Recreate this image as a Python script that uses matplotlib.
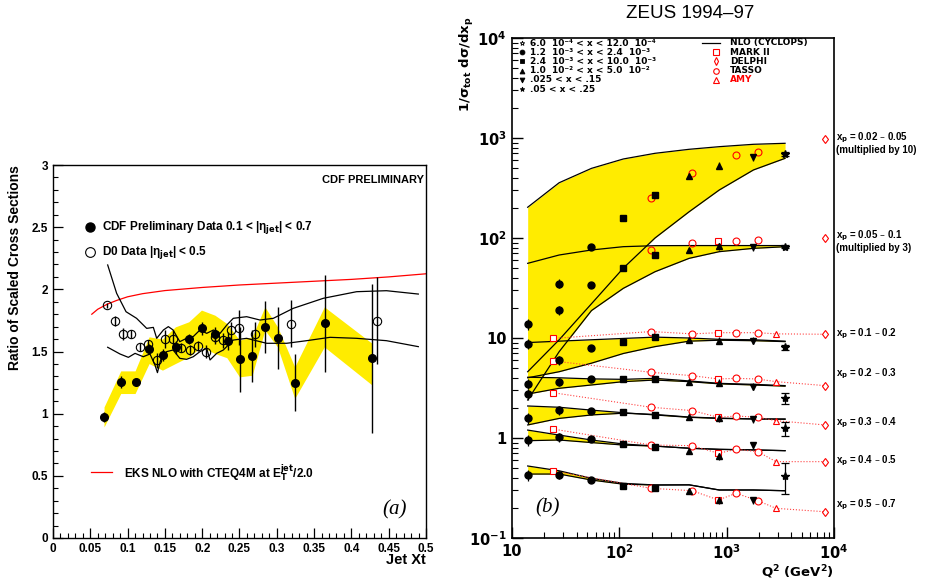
import numpy as np
import matplotlib
matplotlib.use('Agg')
import matplotlib.pyplot as plt

plt.rcParams['font.family'] = ['Liberation Sans', 'DejaVu Sans']

# ---------------- left panel data (CDF / D0 ratio) ----------------
cdf_x = [0.069, 0.091, 0.111, 0.129, 0.147, 0.165, 0.182, 0.200, 0.217, 0.234,
         0.251, 0.267, 0.284, 0.301, 0.324, 0.364, 0.428]
cdf_y = [0.975, 1.255, 1.255, 1.523, 1.474, 1.533, 1.597, 1.686, 1.639, 1.585,
         1.437, 1.464, 1.697, 1.606, 1.249, 1.727, 1.445]
cdf_err = [0.04, 0.05, 0.02, 0.04, 0.05, 0.05, 0.04, 0.05, 0.06, 0.07,
           0.26, 0.21, 0.21, 0.25, 0.23, 0.39, 0.60]

d0_x = [0.0725, 0.0832, 0.0939, 0.105, 0.1163, 0.128, 0.139, 0.150, 0.1615, 0.172,
        0.183, 0.194, 0.205, 0.2165, 0.2276, 0.2388, 0.250, 0.271, 0.3193, 0.4343]
d0_y = [1.870, 1.747, 1.639, 1.639, 1.537, 1.559, 1.430, 1.599, 1.599, 1.532,
        1.511, 1.548, 1.500, 1.618, 1.591, 1.669, 1.690, 1.639, 1.725, 1.749]
d0_err = [0.02, 0.04, 0.05, 0.03, 0.03, 0.03, 0.06, 0.07, 0.07, 0.04,
          0.04, 0.04, 0.05, 0.06, 0.06, 0.07, 0.14, 0.10, 0.19, 0.35]

band_x = [0.0684, 0.0908, 0.110, 0.1288, 0.1467, 0.164, 0.182, 0.199, 0.217, 0.233,
          0.250, 0.267, 0.284, 0.301, 0.324, 0.3637, 0.428]
band_lo = [0.893, 1.162, 1.162, 1.403, 1.350, 1.403, 1.457, 1.537, 1.484, 1.450,
           1.296, 1.309, 1.672, 1.537, 1.122, 1.537, 1.229]
band_hi = [1.054, 1.344, 1.344, 1.618, 1.600, 1.698, 1.739, 1.833, 1.792, 1.725,
           1.591, 1.618, 1.859, 1.698, 1.376, 1.859, 1.564]

eks_x = [0.052, 0.06, 0.0725, 0.085, 0.10, 0.12, 0.15, 0.20, 0.25, 0.30, 0.35, 0.40, 0.45, 0.50]
eks_y = [1.80, 1.84, 1.88, 1.91, 1.94, 1.965, 1.99, 2.015, 2.035, 2.05, 2.065, 2.08, 2.10, 2.125]

sys_up_x = [0.0733, 0.0853, 0.0979, 0.112, 0.1256, 0.1345, 0.139, 0.148, 0.1546, 0.161,
            0.170, 0.179, 0.188, 0.197, 0.206, 0.215, 0.224, 0.233, 0.2417, 0.2596,
            0.2775, 0.2954, 0.322, 0.3624, 0.407, 0.447, 0.4897]
sys_up_y = [2.196, 1.968, 1.82, 1.767, 1.686, 1.694, 1.606, 1.673, 1.70, 1.673,
            1.579, 1.606, 1.62, 1.673, 1.646, 1.673, 1.646, 1.713, 1.767, 1.78,
            1.753, 1.767, 1.847, 1.928, 1.981, 1.989, 1.962]
sys_lo_x = [0.0733, 0.0898, 0.101, 0.110, 0.121, 0.130, 0.1367, 0.140, 0.1443, 0.1524,
            0.161, 0.170, 0.179, 0.188, 0.197, 0.206, 0.2105, 0.2194, 0.2283, 0.235,
            0.2417, 0.2596, 0.2864, 0.3132, 0.340, 0.3713, 0.407, 0.447, 0.4897]
sys_lo_y = [1.534, 1.480, 1.453, 1.485, 1.458, 1.480, 1.391, 1.330, 1.432, 1.499,
            1.512, 1.445, 1.437, 1.458, 1.499, 1.525, 1.432, 1.485, 1.512, 1.552,
            1.592, 1.606, 1.566, 1.566, 1.587, 1.614, 1.606, 1.587, 1.539]

# ---------------- right panel data (ZEUS) ----------------
q2 = [14, 27.5, 55, 109, 215, 447, 853, 1775, 3500]
zeus_marker = ['o', 'o', 'o', 's', 's', '^', '^', 'v', '*']
zeus_rel_err = [0.12, 0.10, 0.05, 0.03, 0.03, 0.05, 0.08, 0.08, 0.12]

zeus_a = [13.8, 35.0, 82.0, 160.0, 272.0, 417.0, 528.0, 641.0, 692.0]   # x 10
zeus_b = [8.8, 19.0, 33.5, 49.7, 67.6, 75.9, 83.0, 80.7, 81.8]          # x 3
zeus_1 = [3.5, 6.0, 7.9, 9.2, 10.2, 9.55, 9.4, 9.4, 8.07]
zeus_2 = [2.75, 3.66, 3.86, 3.86, 3.86, 3.66, 3.57, 3.26, 2.5]
zeus_3 = [1.57, 1.9, 1.88, 1.83, 1.70, 1.61, 1.57, 1.55, 1.25]
zeus_4 = [0.955, 1.02, 0.97, 0.871, 0.819, 0.747, 0.66, 0.85, 0.42]
zeus_5 = [0.427, 0.43, 0.38, 0.334, 0.314, 0.297, 0.24, 0.24, None]
zeus_last_err = [0.04, 0.03, 0.05, 0.13, 0.16, 0.35, 0.0]

ee_q2 = [24, 197, 479, 837, 1224, 1950, 2884, 8260]
ee_marker = ['s', 'o', 'o', 's', 'o', 'o', '^', 'd']
ee_a = [None, 253, 443, None, 671, 724, None, 970]
ee_b = [None, 75.9, 89.8, 94, 94, 95.5, None, 99]
ee_1 = [9.9, 11.6, 11.0, 11.3, 11.3, 11.3, 11.0, 10.9]
ee_2 = [5.9, 4.54, 4.2, 3.89, 3.95, 3.89, 3.66, 3.34]
ee_3 = [2.84, 2.03, 1.88, 1.61, 1.66, 1.61, 1.49, 1.35]
ee_4 = [1.23, 0.851, 0.838, 0.703, 0.77, 0.73, 0.58, 0.58]
ee_5 = [0.468, 0.314, 0.297, 0.24, 0.28, 0.236, 0.198, 0.183]

nlo_a_hi = [203, 357, 497, 617, 703, 771, 819, 865, 885]
nlo_a_lo = [4.6, 9.6, 22, 50, 100, 183, 302, 479, 626]
nlo_b_hi = [55.8, 67.6, 75.9, 81.9, 83.8, 84, 84, 84, 84]
nlo_b_lo = [2.4, 7.3, 18.8, 31.4, 46, 62.6, 73, 78.8, 81.8]
nlo_1_hi = [9.0, 9.3, 9.6, 9.9, 10.2, 10.0, 9.7, 9.6, 9.3]
nlo_1_lo = [4.0, 4.6, 5.6, 7.0, 8.2, 9.3, 9.5, 9.4, 9.2]
nlo_2_hi = [4.05, 4.0, 3.9, 3.86, 3.95, 3.72, 3.52, 3.44, 3.34]
nlo_2_lo = [2.75, 3.14, 3.39, 3.66, 3.8, 3.66, 3.48, 3.39, 3.3]
nlo_3_hi = [2.09, 2.03, 1.9, 1.79, 1.7, 1.61, 1.57, 1.55, 1.55]
nlo_3_lo = [1.35, 1.57, 1.7, 1.77, 1.72, 1.62, 1.58, 1.55, 1.54]
nlo_4_hi = [1.2, 1.07, 0.955, 0.871, 0.83, 0.79, 0.77, 0.76, 0.747]
nlo_4_lo = [0.94, 0.955, 0.9, 0.85, 0.83, 0.79, 0.77, 0.76, 0.747]
nlo_5_hi = [0.525, 0.47, 0.395, 0.352, 0.339, 0.34, 0.302, 0.302, 0.297]
nlo_5_lo = [0.436, 0.436, 0.38, 0.345, 0.339, 0.34, 0.302, 0.302, 0.297]

bin_labels = [('x$_\\mathbf{p}$ = 0.02 – 0.05', 138), ('(multiplied by 10)', 150),
              ('x$_\\mathbf{p}$ = 0.05 – 0.1', 236), ('(multiplied by 3)', 248),
              ('x$_\\mathbf{p}$ = 0.1 – 0.2', 334), ('x$_\\mathbf{p}$ = 0.2 – 0.3', 374),
              ('x$_\\mathbf{p}$ = 0.3 – 0.4', 423), ('x$_\\mathbf{p}$ = 0.4 – 0.5', 461),
              ('x$_\\mathbf{p}$ = 0.5 – 0.7', 505)]

YELLOW = '#ffec00'
W, H = 928, 586


def box(x0, y0, x1, y1):
    return [x0 / W, 1 - y1 / H, (x1 - x0) / W, (y1 - y0) / H]


fig = plt.figure(figsize=(9.28, 5.86), dpi=100)

# ================= left panel =================
axl = fig.add_axes(box(53, 165, 426, 538))
axl.fill_between(band_x, band_lo, band_hi, color=YELLOW, lw=0)
axl.plot(eks_x, eks_y, color='red', lw=0.9)
axl.plot(sys_up_x, sys_up_y, color='black', lw=0.9)
axl.plot(sys_lo_x, sys_lo_y, color='black', lw=0.9)
axl.errorbar(d0_x, d0_y, yerr=d0_err, fmt='o', mfc='none', mec='black', mew=0.8,
             ms=6, ecolor='black', elinewidth=1.0)
axl.errorbar(cdf_x, cdf_y, yerr=cdf_err, fmt='o', color='black', ms=5.5,
             elinewidth=1.0)

axl.set_xlim(0, 0.5)
axl.set_ylim(0, 3)
axl.set_xticks(np.arange(0, 0.51, 0.05))
axl.set_xticklabels(['0', '0.05', '0.1', '0.15', '0.2', '0.25', '0.3', '0.35',
                     '0.4', '0.45', '0.5'])
axl.set_xticks(np.arange(0, 0.501, 0.01), minor=True)
axl.set_yticks(np.arange(0, 3.01, 0.5))
axl.set_yticklabels(['0', '0.5', '1', '1.5', '2', '2.5', '3'])
axl.set_yticks(np.arange(0, 3.01, 0.1), minor=True)
axl.tick_params(which='both', direction='in', top=False, right=False,
                labelsize=8.5)
axl.tick_params(which='major', length=7, width=0.9)
axl.tick_params(which='minor', length=3.5, width=0.8)
for lab in axl.get_xticklabels() + axl.get_yticklabels():
    lab.set_fontweight('bold')
for sp in axl.spines.values():
    sp.set_linewidth(1.0)

axl.text(0.497, 2.88, 'CDF PRELIMINARY', ha='right', va='center',
         fontsize=8, fontweight='bold')
axl.plot([0.05], [2.498], 'o', color='black', ms=6.5)
axl.text(0.0657, 2.498, 'CDF Preliminary Data 0.1 < |η$_{\\mathbf{jet}}$| < 0.7',
         va='center', fontsize=8.5, fontweight='bold')
axl.plot([0.05], [2.297], 'o', mfc='white', mec='black', ms=7, mew=0.8)
axl.text(0.0657, 2.297, 'D0 Data |η$_{\\mathbf{jet}}$| < 0.5',
         va='center', fontsize=8.5, fontweight='bold')
axl.plot([0.0505, 0.0796], [0.529, 0.529], color='red', lw=0.9)
axl.text(0.0948, 0.529, 'EKS NLO with CTEQ4M at E$_\\mathbf{T}^\\mathbf{jet}$/2.0',
         va='center', fontsize=8.5, fontweight='bold')
axl.text(0.4575, 0.223, '(a)', ha='center', va='center', fontsize=15,
         family='Liberation Serif', style='italic')

axl.set_xlabel('Jet Xt', fontsize=10.5, fontweight='bold', loc='right', labelpad=-1)
axl.set_ylabel('Ratio of Scaled Cross Sections', fontsize=10, fontweight='bold',
               loc='top', labelpad=7)

# ================= right panel =================
axr = fig.add_axes(box(512, 38, 834, 538))
axr.set_xscale('log')
axr.set_yscale('log')

bands = [(nlo_a_lo, nlo_a_hi), (nlo_b_lo, nlo_b_hi), (nlo_1_lo, nlo_1_hi),
         (nlo_2_lo, nlo_2_hi), (nlo_3_lo, nlo_3_hi), (nlo_4_lo, nlo_4_hi),
         (nlo_5_lo, nlo_5_hi)]
for lo, hi in bands:
    axr.fill_between(q2, lo, hi, color=YELLOW, lw=0, zorder=1)
for lo, hi in bands:
    axr.plot(q2, hi, color='black', lw=0.9, zorder=2)
    axr.plot(q2, lo, color='black', lw=0.9, zorder=2)

# e+e- data
ee_sets = [(ee_a, False), (ee_b, False), (ee_1, True), (ee_2, True),
           (ee_3, True), (ee_4, True), (ee_5, True)]
for vals, joined in ee_sets:
    if joined:
        axr.plot(ee_q2, vals, color='#ff4040', lw=0.8, ls=':', zorder=3)
    for q, v, m in zip(ee_q2, vals, ee_marker):
        if v is None:
            continue
        axr.plot([q], [v], marker=m, ls='none', mfc='white' if joined else 'none',
                 mec='red', mew=0.8, ms=5 if m != 'd' else 4.5, zorder=4)

# ZEUS data
zeus_sets = [zeus_a, zeus_b, zeus_1, zeus_2, zeus_3, zeus_4, zeus_5]
for k, vals in enumerate(zeus_sets):
    for j, (q, v, m) in enumerate(zip(q2, vals, zeus_marker)):
        if v is None:
            continue
        rel = zeus_last_err[k] if j == len(q2) - 1 else zeus_rel_err[j]
        axr.errorbar([q], [v], yerr=[[v * rel], [v * rel]], fmt=m, color='black',
                     ms=5 if m != '*' else 6, elinewidth=0.9,
                     capsize=3 if j == len(q2) - 1 else 0, capthick=0.9, zorder=5)

axr.set_xlim(10, 1e4)
axr.set_ylim(0.1, 1e4)
axr.set_xticks([10, 100, 1000, 10000])
axr.set_xticklabels(['10', '$\\mathbf{10^{2}}$', '$\\mathbf{10^{3}}$', '$\\mathbf{10^{4}}$'])
axr.set_yticks([0.1, 1, 10, 100, 1000, 10000])
axr.set_yticklabels(['$\\mathbf{10^{-1}}$', '1', '10', '$\\mathbf{10^{2}}$',
                     '$\\mathbf{10^{3}}$', '$\\mathbf{10^{4}}$'])
axr.tick_params(which='both', direction='in', top=False, right=False)
axr.tick_params(which='major', length=8, width=1.0, labelsize=10.5, pad=4)
axr.tick_params(which='minor', length=4, width=0.8)
for lab in axr.get_xticklabels() + axr.get_yticklabels():
    lab.set_fontweight('bold')
    lab.set_family('DejaVu Sans')
for sp in axr.spines.values():
    sp.set_linewidth(1.2)

axr.text(0.11, 0.06, '(b)', transform=axr.transAxes, ha='center', va='center',
         fontsize=15, family='Liberation Serif', style='italic')

# legend inside right panel (unicode superscripts keep the rows compact)
leg_rows = [('*', 'none', '6.0  10⁻⁴ < x < 12.0  10⁻⁴'),
            ('o', 'black', '1.2  10⁻³ < x < 2.4  10⁻³'),
            ('s', 'black', '2.4  10⁻³ < x < 10.0  10⁻³'),
            ('^', 'black', '1.0  10⁻² < x < 5.0  10⁻²'),
            ('v', 'black', '.025 < x < .15'),
            ('*', 'black', '.05 < x < .25')]
row_dy = 9.2
for i, (m, fc, txt) in enumerate(leg_rows):
    fy = (538 - (43 + row_dy * i)) / 500
    axr.plot([0.031], [fy], marker=m, mfc=fc, mec='black', mew=0.6, ms=3.5,
             ls='none', transform=axr.transAxes, clip_on=False)
    axr.text(0.056, fy, txt, transform=axr.transAxes, va='center', fontsize=6.5,
             fontweight='bold', family='DejaVu Sans')

axr.plot([0.59, 0.646], [(538 - 43) / 500] * 2, color='black', lw=0.9,
         transform=axr.transAxes)
axr.text(0.677, (538 - 43) / 500, 'NLO (CYCLOPS)', transform=axr.transAxes,
         va='center', fontsize=6.5, fontweight='bold', family='DejaVu Sans')
for i, (m, txt, tc) in enumerate([('s', 'MARK II', 'black'), ('d', 'DELPHI', 'black'),
                                  ('o', 'TASSO', 'black'), ('^', 'AMY', 'red')]):
    fy = (538 - (43 + row_dy * (i + 1))) / 500
    axr.plot([0.634], [fy], marker=m, mfc='none', mec='red', mew=0.8, ms=4,
             transform=axr.transAxes, ls='none')
    axr.text(0.677, fy, txt, transform=axr.transAxes, va='center', fontsize=6.5,
             fontweight='bold', family='DejaVu Sans', color=tc)

for txt, py in bin_labels:
    fig.text(836 / W, 1 - py / H, txt, va='center', ha='left', fontsize=7,
             fontweight='bold', family='Liberation Sans')

fig.text(690 / W, 1 - 14 / H, 'ZEUS 1994–97', ha='center', va='center', fontsize=13.5)
fig.text(467 / W, 1 - 64 / H, '1/σ$_{\\mathbf{tot}}$ dσ/dx$_{\\mathbf{p}}$', rotation=90,
         ha='center', va='center', fontsize=9.5, fontweight='bold', family='DejaVu Sans')
fig.text(834 / W, 1 - 572 / H, 'Q$^{\\mathbf{2}}$ (GeV$^{\\mathbf{2}}$)', ha='right',
         va='center', fontsize=9.5, fontweight='bold', family='DejaVu Sans')

fig.savefig('out.png', dpi=100)
